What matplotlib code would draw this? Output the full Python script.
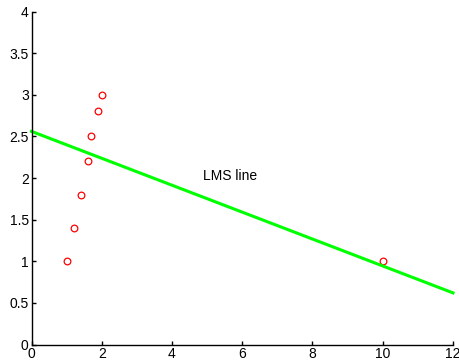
import matplotlib
matplotlib.use("Agg")
import matplotlib.pyplot as plt
import numpy as np

plt.rcParams['font.family'] = ['Liberation Sans', 'DejaVu Sans']

x_pts = [1, 1.2, 1.4, 1.6, 1.7, 1.9, 2, 10]
y_pts = [1, 1.4, 1.8, 2.2, 2.5, 2.8, 3, 1]
line_x = [0, 12]
line_y = [2.56, 0.62]
x_ticks = [0, 2, 4, 6, 8, 10, 12]
y_ticks = [0, 0.5, 1, 1.5, 2, 2.5, 3, 3.5, 4]
y_tick_labels = ['0', '0.5', '1', '1.5', '2', '2.5', '3', '3.5', '4']

fig = plt.figure(figsize=(4.59, 3.64), dpi=100)
ax = fig.add_axes([31.5/459, (364-344.5)/364, (453-31.5)/459, (344.5-11.5)/364])

ax.plot(x_pts, y_pts, 'o', mfc='none', mec='red', ms=4.8, mew=0.9, clip_on=False)
ax.plot(line_x, line_y, color=(0, 1, 0), lw=2.2, clip_on=False)
ax.text(4.89, 2.02, 'LMS line', fontsize=10, ha='left', va='center')

ax.set_xlim(0, 12)
ax.set_ylim(0, 4)
ax.set_xticks(x_ticks)
ax.set_yticks(y_ticks)
ax.set_yticklabels(y_tick_labels)
for s in ['top', 'right']:
    ax.spines[s].set_visible(False)
for s in ['left', 'bottom']:
    ax.spines[s].set_linewidth(1.0)
ax.tick_params(direction='in', length=3, width=1.0, labelsize=10, pad=2)

fig.savefig('out.png', dpi=100)
